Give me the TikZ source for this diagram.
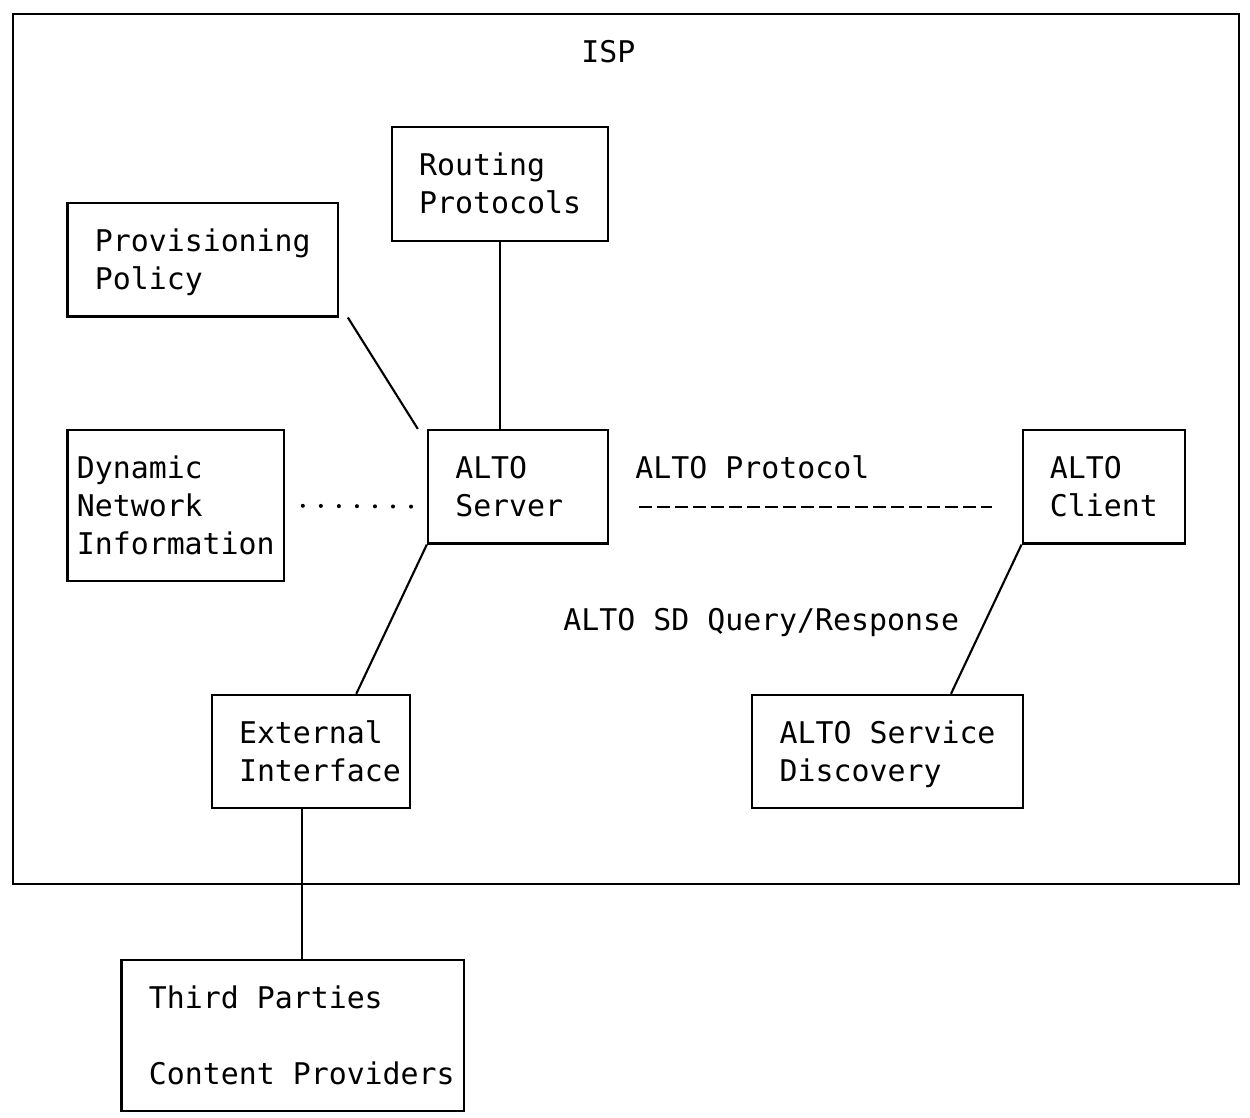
\documentclass[tikz,border=0pt]{standalone}
\usepackage{fontspec}
\setmonofont{DejaVu Sans Mono}
\tikzset{every picture/.style={/utils/exec={\ttfamily\fontsize{17}{21.5}\selectfont}}}
\usetikzlibrary{calc}
\usetikzlibrary{fit}

\def\cw{0.3604cm}
\def\rh{0.7568cm}

\tikzset{
  box/.style={draw, line width=1.2pt, inner sep=0pt},
  txt/.style={anchor=west, inner sep=0pt, text height=0.729em, text depth=0pt},
  link/.style={line width=1.2pt},
  dotline/.style={line width=2.3pt, line cap=round, dash pattern=on 0.01pt off 0.3604cm,
    shorten <=0.3604cm, shorten >=0.25cm},
  protoline/.style={line width=1.2pt, dash pattern=on 0.26cm off 0.1004cm,
    shorten <=0.591cm, shorten >=0.591cm},
}

\begin{document}
\begin{tikzpicture}[x=0.3604cm, y=-0.7568cm]
  \useasboundingbox (-0.744,-0.362) rectangle (68.62,29.18);

  % ISP domain
  \node [box, fit={(0,0) (68,23)}] (isp) {};
  \node [txt] (isplbl) at (31.5,1) {ISP};

  \node [box, fit={(21,3) (33,6)}] (routing) {};
  \node [txt] (routing1) at (22.5,4) {Routing};
  \node [txt] (routing2) at (22.5,5) {Protocols};

  \node [box, fit={(3,5) (18,8)}] (prov) {};
  \node [txt] (prov1) at (4.5,6) {Provisioning};
  \node [txt] (prov2) at (4.5,7) {Policy};

  \node [box, fit={(3,11) (15,15)}] (dyn) {};
  \node [txt] (dyn1) at (3.5,12) {Dynamic};
  \node [txt] (dyn2) at (3.5,13) {Network};
  \node [txt] (dyn3) at (3.5,14) {Information};

  \node [box, fit={(23,11) (33,14)}] (server) {};
  \node [txt] (server1) at (24.5,12) {ALTO};
  \node [txt] (server2) at (24.5,13) {Server};

  \node [box, fit={(56,11) (65,14)}] (client) {};
  \node [txt] (client1) at (57.5,12) {ALTO};
  \node [txt] (client2) at (57.5,13) {Client};

  \node [box, fit={(11,18) (22,21)}] (ext) {};
  \node [txt] (ext1) at (12.5,19) {External};
  \node [txt] (ext2) at (12.5,20) {Interface};

  \node [box, fit={(41,18) (56,21)}] (sd) {};
  \node [txt] (sd1) at (42.5,19) {ALTO Service};
  \node [txt] (sd2) at (42.5,20) {Discovery};

  % outside the ISP
  \node [box, fit={(6,25) (25,29)}] (third) {};
  \node [txt] (third1) at (7.5,26) {Third Parties};
  \node [txt] (third2) at (7.5,28) {Content Providers};

  % connectors
  \draw [link] ([xshift=0.5*\cw]prov.south east) -- ([xshift=-0.5*\cw]server.north west);
  \draw [link] (routing.south) -- (routing.south |- server.north);
  \draw [dotline] (dyn.east) -- ([yshift=\rh]server.south west);
  \draw [protoline] ([yshift=\rh]server.south east) -- ([yshift=\rh]client.south west);
  \node [txt] (protolbl) at (34.5,12) {ALTO Protocol};
  \draw [link] (server.south west) -- ($(ext.north west)!8/11!(ext.north east)$);
  \draw [link] (client.south west) -- ($(sd.north west)!11/15!(sd.north east)$);
  \node [txt] (sdlbl) at (30.5,16) {ALTO SD Query/Response};
  \draw [link] ($(ext.south west)!5/11!(ext.south east)$) coordinate (extout) -- (extout |- third.north);
\end{tikzpicture}
\end{document}
